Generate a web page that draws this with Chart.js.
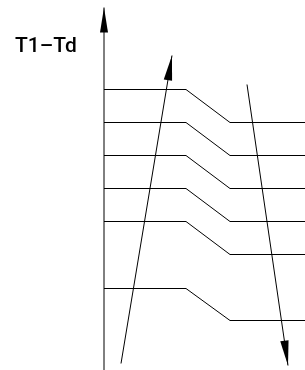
<!DOCTYPE html>
<html>
<head>
<meta charset="utf-8">
<script src="https://cdn.jsdelivr.net/npm/chart.js@4/dist/chart.umd.min.js"></script>
<style>
  html, body { margin: 0; padding: 0; background: #fff; }
  #wrap { position: relative; width: 305px; height: 370px; }
</style>
</head>
<body>
<div id="wrap"><canvas id="c"></canvas></div>
<script>
// Axis label
const axisLabel = 'T1–Td';

// Schematic data (x: distance from axis, y: height above bottom)
const stepX = [0, 82, 126, 201];            // start, kink start, kink end, end
const leftLevels  = [281, 248, 215, 182, 149, 82];
const rightLevels = [248, 215, 182, 149, 116, 50];

// Vertical axis (from bottom to arrow tip)
const axisX = [0, 0];
const axisY = [0, 363];

// Rising arrow (tail -> tip)
const upArrowX = [17, 68];
const upArrowY = [7, 315];

// Falling arrow (tail -> tip)
const downArrowX = [143, 184];
const downArrowY = [286, 5];

const datasets = [];
leftLevels.forEach((l, i) => {
  const r = rightLevels[i];
  datasets.push({
    data: [
      {x: stepX[0], y: l}, {x: stepX[1], y: l},
      {x: stepX[2], y: r}, {x: stepX[3], y: r}
    ],
    borderColor: '#000', borderWidth: 1, pointRadius: 0, tension: 0
  });
});
datasets.push({
  data: axisX.map((x, i) => ({x, y: axisY[i]})),
  borderColor: '#000', borderWidth: 1, pointRadius: 0, arrow: {len: 25, half: 4}
});
datasets.push({
  data: upArrowX.map((x, i) => ({x, y: upArrowY[i]})),
  borderColor: '#000', borderWidth: 1, pointRadius: 0, arrow: {len: 25, half: 4.2}
});
datasets.push({
  data: downArrowX.map((x, i) => ({x, y: downArrowY[i]})),
  borderColor: '#000', borderWidth: 1, pointRadius: 0, arrow: {len: 25, half: 4.2}
});

const arrowPlugin = {
  id: 'arrowheads',
  afterDatasetsDraw(chart) {
    const ctx = chart.ctx;
    chart.data.datasets.forEach((ds, i) => {
      if (!ds.arrow) return;
      const pts = chart.getDatasetMeta(i).data;
      const a = pts[pts.length - 2], b = pts[pts.length - 1];
      const dx = b.x - a.x, dy = b.y - a.y;
      const d = Math.hypot(dx, dy);
      const ux = dx / d, uy = dy / d;
      const bx = b.x - ux * ds.arrow.len, by = b.y - uy * ds.arrow.len;
      const px = -uy * ds.arrow.half, py = ux * ds.arrow.half;
      ctx.save();
      ctx.fillStyle = '#000';
      ctx.beginPath();
      ctx.moveTo(b.x, b.y);
      ctx.lineTo(bx + px, by + py);
      ctx.lineTo(bx - px, by - py);
      ctx.closePath();
      ctx.fill();
      ctx.restore();
    });
  }
};

const labelPlugin = {
  id: 'axisLabel',
  afterDraw(chart) {
    const ctx = chart.ctx;
    const xs = chart.scales.x, ys = chart.scales.y;
    ctx.save();
    ctx.fillStyle = '#000';
    ctx.font = '500 21px Roboto, sans-serif';
    ctx.textAlign = 'left';
    ctx.textBaseline = 'alphabetic';
    ctx.fillText(axisLabel, xs.getPixelForValue(-89), ys.getPixelForValue(318.5));
    ctx.restore();
  }
};

new Chart(document.getElementById('c'), {
  type: 'line',
  data: { datasets },
  options: {
    responsive: true,
    maintainAspectRatio: false,
    animation: false,
    events: [],
    layout: { padding: 0 },
    plugins: { legend: { display: false }, tooltip: { enabled: false }, title: { display: false } },
    scales: {
      x: { type: 'linear', min: -104, max: 201, display: false },
      y: { type: 'linear', min: 0.5, max: 370.5, display: false }
    }
  },
  plugins: [arrowPlugin, labelPlugin]
});
</script>
</body>
</html>
